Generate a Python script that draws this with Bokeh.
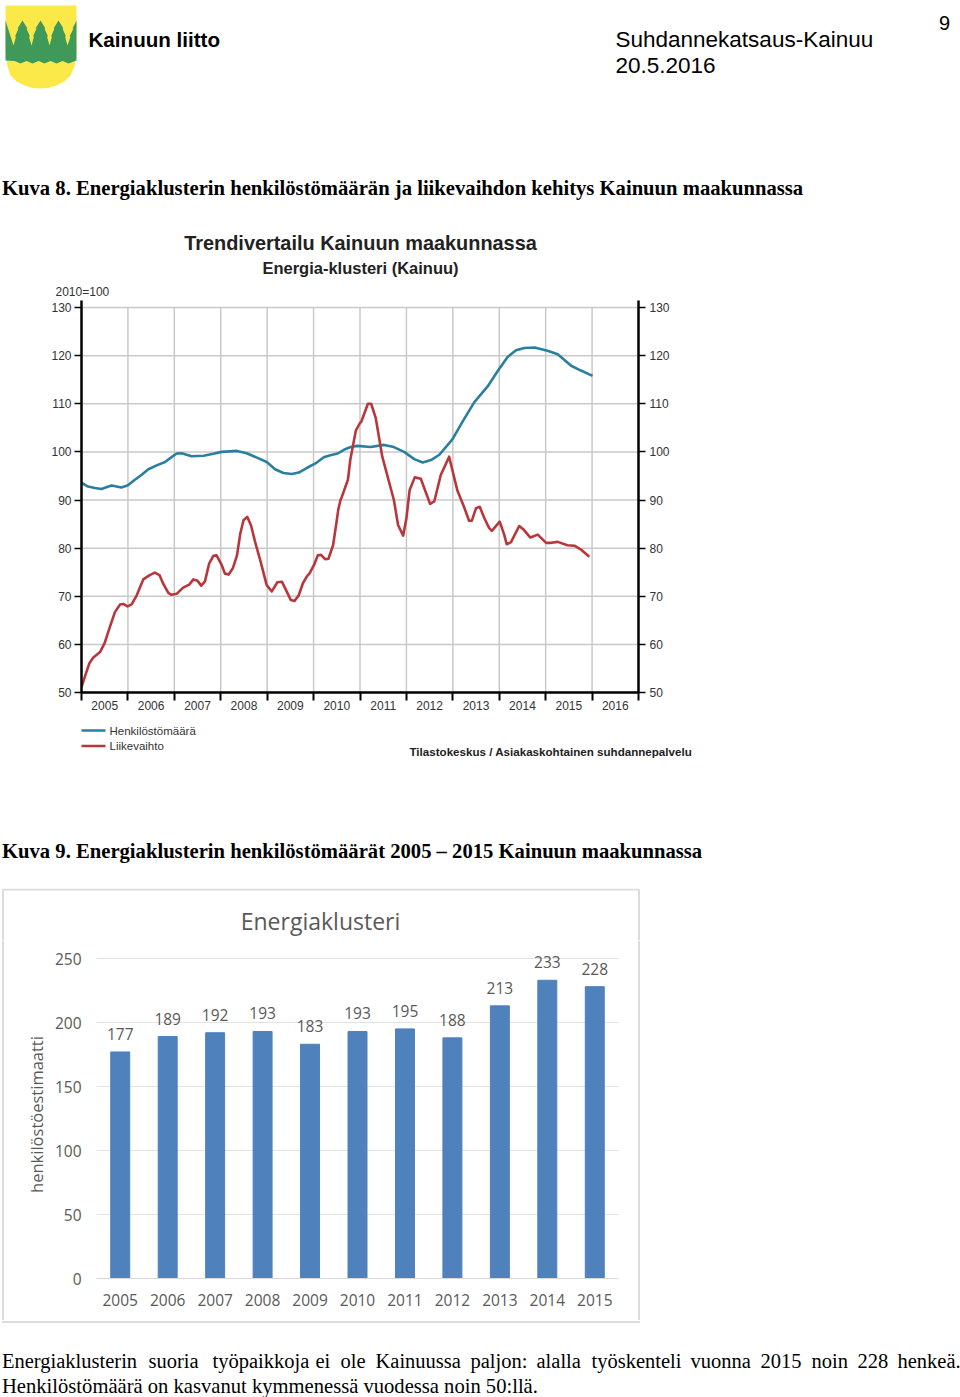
from bokeh.plotting import figure
from bokeh.layouts import column, row
from bokeh.models import FixedTicker, Range1d, LinearAxis, FactorRange
from bokeh.core.properties import value
from bokeh.embed import file_html
from bokeh.resources import INLINE

# --- line chart data (index, 2010=100) ---
staff_years = [2005.00,2005.14,2005.29,2005.43,2005.58,2005.65,2005.86,2006.00,2006.15,2006.29,2006.44,2006.62,2006.80,2006.94,
 2007.05,2007.16,2007.37,2007.63,2007.84,2008.02,2008.35,2008.56,2008.78,2008.99,2009.17,2009.35,2009.53,2009.68,2009.86,
 2010.04,2010.22,2010.36,2010.50,2010.58,2010.68,2010.80,2010.94,2011.23,2011.52,2011.73,2011.95,2012.17,2012.35,2012.53,2012.71,
 2012.99,2013.21,2013.46,2013.75,2013.96,2014.18,2014.36,2014.54,2014.76,2015.04,2015.26,2015.55,2015.76,2016.01]
staff_index = [93.6,92.8,92.5,92.3,92.8,93.0,92.6,93.05,94.2,95.2,96.4,97.2,97.9,98.9,
 99.65,99.7,99.1,99.2,99.6,100.0,100.2,99.7,98.8,97.9,96.4,95.6,95.4,95.7,96.7,
 97.6,98.9,99.3,99.6,100.0,100.55,101.0,101.25,101.0,101.45,101.0,100.0,98.5,97.8,98.3,99.4,
 102.6,106.3,110.3,113.6,116.7,119.7,121.1,121.6,121.7,121.0,120.3,117.9,116.9,115.8]
turnover_years = [2005.00,2005.07,2005.17,2005.25,2005.40,2005.50,2005.61,2005.72,2005.83,2005.90,2005.99,2006.08,2006.19,2006.33,2006.47,
 2006.58,2006.68,2006.76,2006.87,2006.94,2007.05,2007.19,2007.32,2007.41,2007.50,2007.58,2007.66,2007.75,2007.84,2007.91,
 2008.02,2008.09,2008.17,2008.26,2008.35,2008.42,2008.49,2008.57,2008.65,2008.74,2008.85,2008.99,2009.10,2009.22,2009.32,2009.42,
 2009.51,2009.59,2009.68,2009.77,2009.86,2009.91,2010.01,2010.09,2010.16,2010.25,2010.32,2010.42,2010.50,2010.53,2010.58,2010.61,
 2010.74,2010.79,2010.91,2011.00,2011.03,2011.17,2011.24,2011.34,2011.48,2011.73,2011.82,2011.93,2012.00,2012.07,2012.18,2012.31,
 2012.51,2012.60,2012.74,2012.92,2013.10,2013.24,2013.35,2013.41,2013.50,2013.58,2013.68,2013.78,2013.84,2014.01,2014.11,2014.16,
 2014.25,2014.43,2014.53,2014.67,2014.83,2015.01,2015.12,2015.26,2015.47,2015.62,2015.76,2015.94]
turnover_index = [51.1,53.2,56.1,57.2,58.4,60.3,63.6,66.7,68.3,68.4,67.9,68.3,70.2,73.5,74.4,
 74.9,74.4,72.6,70.7,70.3,70.5,71.8,72.4,73.5,73.2,72.2,73.1,76.8,78.4,78.5,
 76.5,74.7,74.5,75.8,78.5,83.0,85.8,86.5,84.8,81.3,77.5,72.3,71.0,72.9,73.0,71.0,
 69.2,69.0,70.2,72.7,74.2,74.7,76.5,78.5,78.6,77.7,77.8,80.6,85.8,87.9,90.0,90.7,
 94.2,98.3,104.4,106.0,106.3,110.0,110.0,107.0,99.0,90.0,84.8,82.6,86.2,92.1,94.7,94.4,
 89.2,89.7,95.2,99.0,91.9,88.6,85.7,85.7,88.3,88.6,86.2,84.2,83.6,85.5,82.7,80.8,
 81.2,84.6,83.8,82.2,82.8,81.1,81.1,81.3,80.6,80.5,79.7,78.2]
year_edges = list(range(2005, 2018))
year_labels = [str(y) for y in range(2005, 2017)]
index_ticks = [50, 60, 70, 80, 90, 100, 110, 120, 130]

# --- bar chart data ---
bar_years = ["2005","2006","2007","2008","2009","2010","2011","2012","2013","2014","2015"]
bar_values = [177,189,192,193,183,193,195,188,213,233,228]
bar_ticks = [0, 50, 100, 150, 200, 250]

# --- texts ---
TOP_CAPTION = "Kuva 8. Energiaklusterin henkilöstömäärän ja liikevaihdon kehitys Kainuun maakunnassa"
MID_CAPTION = "Kuva 9. Energiaklusterin henkilöstömäärät 2005 – 2015 Kainuun maakunnassa"
LAST_LINE = "Henkilöstömäärä on kasvanut kymmenessä vuodessa noin 50:llä."
first_line_words = ["Energiaklusterin","suoria","työpaikkoja","ei","ole","Kainuussa","paljon:","alalla","työskenteli","vuonna","2015","noin","228","henkeä."]
first_line_x = [1.5,148,212,315,340,375,470,536,591,690,760,811,857,897]

SANS = "Liberation Sans"
SERIF = "Liberation Serif"
BLUE = "#2b7f9e"
RED = "#b8373c"
INK = "#333333"
GRID = "#c9c9c9"
XL = "#595959"
XG = "#dcdcdc"


def sheet(y0, y1, x0=0, x1=960):
    """A blank piece of the page, whose coordinates are page pixels."""
    p = figure(width=x1 - x0, height=y1 - y0, x_range=Range1d(x0, x1), y_range=Range1d(y1, y0),
               output_backend="svg", toolbar_location=None, min_border=0, margin=(0, 0, 0, 0),
               frame_align=False)
    p.axis.visible = False
    p.grid.visible = False
    p.outline_line_color = None
    return p


def put(p, x, y, s, size, font=SANS, color="#000000", style="normal", align="left"):
    p.text([x], [y], text=[s], text_font=value(font), text_font_size=f"{size}px", text_color=color,
           text_font_style=style, text_align=align, text_baseline="middle")


# ---------- header strip ----------
head = sheet(0, 300)
shield_x = [5, 76, 76, 74, 70, 64, 56, 48, 40, 32, 24, 16, 10, 7, 5]
shield_y = [5, 5, 50, 66, 75, 81, 85, 87.5, 88, 87.5, 85, 81, 75, 66, 50]
head.patch(shield_x, shield_y, color="#fbe94a", line_color=None)
top_x, top_y = [5], [20]
for i, c in enumerate([22, 40, 58]):
    top_x += [c - 9, c - 6.5, c - 7.5, c - 4, c - 5, c, c + 5, c + 4, c + 7.5, c + 6.5, c + 9]
    top_y += [45, 36, 36, 28, 28, 20, 28, 28, 36, 36, 45]
top_x += [70, 69, 73, 72, 76]
top_y += [36, 36, 28, 28, 20]
bottom_x = [76, 76, 68, 62, 56, 50, 44, 38, 32, 26, 20, 14, 5, 5]
bottom_y = [45, 60, 63, 60.5, 63, 60.5, 63, 60.5, 63, 60.5, 63, 60.5, 60, 45]
head.patch(top_x + bottom_x[:-1] + [5, 5], top_y + bottom_y[:-1] + [60, 20], color="#3f9a5a", line_color=None)
put(head, 88, 39, "Kainuun liitto", 20.6, style="bold")
put(head, 615, 38.5, "Suhdannekatsaus-Kainuu", 22.5)
put(head, 615, 64.5, "20.5.2016", 22.5)
put(head, 944, 22, "9", 20, align="center")
put(head, 1.5, 187, TOP_CAPTION, 20.65, font=SERIF, style="bold")
put(head, 360, 242, "Trendivertailu Kainuun maakunnassa", 19.9, color="#222222", style="bold", align="center")
put(head, 360, 267.5, "Energia-klusteri (Kainuu)", 16.5, color="#222222", style="bold", align="center")
put(head, 55, 291, "2010=100", 12, color=INK)

# ---------- line chart ----------
line = figure(width=960, height=420, x_range=Range1d(2005, 2017),
              y_range=Range1d(50, 50 + 392 / 4.8125), output_backend="svg", toolbar_location=None,
              min_border_left=81, min_border_right=322, min_border_top=0, min_border_bottom=28,
              y_axis_location=None, x_axis_location=None, margin=(0, 0, 0, 0), frame_align=False)
line.outline_line_color = None
line.xgrid.visible = False
line.ygrid.visible = False
line.segment(year_edges[1:-1], [50] * 11, year_edges[1:-1], [130] * 11, line_color=GRID, line_width=1.5)
line.segment([2005] * 9, index_ticks, [2017] * 9, index_ticks, line_color=GRID, line_width=1.5)
line.line(staff_years, staff_index, line_color=BLUE, line_width=2.6, line_join="round")
line.line(turnover_years, turnover_index, line_color=RED, line_width=2.6, line_join="round")
mid_years = [y + 0.5 for y in year_edges[:-1]]
below = LinearAxis(ticker=FixedTicker(ticks=mid_years, minor_ticks=year_edges),
                   major_label_overrides={m: l for m, l in zip(mid_years, year_labels)},
                   major_tick_line_color=None, major_tick_in=0, major_tick_out=0,
                   minor_tick_in=0, minor_tick_out=8, minor_tick_line_color="#000000", minor_tick_line_width=2,
                   axis_line_color="#000000", axis_line_width=2.5, major_label_standoff=0,
                   major_label_text_font=SANS, major_label_text_font_size="12px", major_label_text_color=INK)
line.add_layout(below, "below")
for side, standoff in (("left", 3), ("right", 4)):
    ax = LinearAxis(ticker=FixedTicker(ticks=index_ticks), major_tick_in=0, major_tick_out=7,
                    major_tick_line_color="#000000", major_tick_line_width=1.5, minor_tick_line_color=None,
                    axis_line_color="#000000", axis_line_width=2.5, major_label_standoff=standoff,
                    major_label_text_font=SANS, major_label_text_font_size="12px", major_label_text_color=INK)
    line.add_layout(ax, side)

# ---------- strip between the charts ----------
mid = sheet(720, 888)
mid.line([81, 105], [730, 730], line_color=BLUE, line_width=2.6)
mid.line([81, 105], [745.5, 745.5], line_color=RED, line_width=2.6)
put(mid, 109, 730.5, "Henkilöstömäärä", 11.5, color=INK)
put(mid, 109, 745.5, "Liikevaihto", 11.5, color=INK)
put(mid, 409, 751, "Tilastokeskus / Asiakaskohtainen suhdannepalvelu", 11.6, color="#222222", style="bold")
put(mid, 1.5, 850.5, MID_CAPTION, 20.65, font=SERIF, style="bold")

# ---------- bar chart: its box and title strips ----------
bar_top = sheet(888, 940)
bar_top.line([2.5, 2.5, 638.5, 638.5], [940, 889, 889, 940], line_color=XG, line_width=2)
put(bar_top, 320, 920.5, "Energiaklusteri", 23, font="Open Sans", color=XL, align="center")

bar_left = sheet(940, 1320, 0, 4)
bar_left.line([2.5, 2.5], [940, 1320], line_color=XG, line_width=2)

bar_right = sheet(940, 1320, 637, 960)
bar_right.line([638.5, 638.5], [940, 1320], line_color=XG, line_width=2)

bar = figure(width=633, height=380, x_range=FactorRange(factors=bar_years, range_padding=0),
             y_range=Range1d(0, 328 / 1.28), output_backend="svg", toolbar_location=None,
             min_border_left=92, min_border_right=19, min_border_top=10, min_border_bottom=42,
             margin=(0, 0, 0, 0), frame_align=False)
bar.outline_line_color = None
bar.xgrid.visible = False
bar.ygrid.grid_line_color = "#e2e2e2"
bar.ygrid.grid_line_width = 1.2
bar.ygrid.ticker = FixedTicker(ticks=bar_ticks)
bar.vbar(x=bar_years, top=bar_values, width=0.4, color="#4f81bd")
bar.text(x=bar_years, y=bar_values, text=[str(v) for v in bar_values], text_font=value("Open Sans"),
         text_font_size="15.5px", text_color=XL, text_align="center", text_baseline="middle", y_offset=-18)
bar.xaxis.axis_line_color = "#d9d9d9"
bar.xaxis.major_tick_line_color = None
bar.xaxis.minor_tick_line_color = None
bar.xaxis.major_label_standoff = 9
bar.xaxis.major_label_text_font = "Open Sans"
bar.xaxis.major_label_text_font_size = "15.5px"
bar.xaxis.major_label_text_color = XL
bar.yaxis.ticker = FixedTicker(ticks=bar_ticks)
bar.yaxis.axis_line_color = None
bar.yaxis.major_tick_line_color = None
bar.yaxis.minor_tick_line_color = None
bar.yaxis.major_label_standoff = 9
bar.yaxis.major_label_text_font = "Open Sans"
bar.yaxis.major_label_text_font_size = "15.5px"
bar.yaxis.major_label_text_color = XL
bar.yaxis.axis_label = "henkilöstöestimaatti"
bar.yaxis.axis_label_standoff = 4
bar.yaxis.axis_label_text_font = "Open Sans"
bar.yaxis.axis_label_text_font_style = "normal"
bar.yaxis.axis_label_text_font_size = "16.5px"
bar.yaxis.axis_label_text_color = XL

bar_row = row(bar_left, bar, bar_right, spacing=0, margin=(0, 0, 0, 0))

# ---------- closing text ----------
tail = sheet(1320, 1397)
tail.line([1.5, 639.5], [1321.5, 1321.5], line_color=XG, line_width=2)
for wx, w in zip(first_line_x, first_line_words):
    put(tail, wx, 1360.5, w, 20.5, font=SERIF)
put(tail, 1.5, 1385, LAST_LINE, 20.6, font=SERIF)

page = column(head, line, mid, bar_top, bar_row, tail, spacing=0, margin=(0, 0, 0, 0),
              styles={"position": "absolute", "left": "0px", "top": "0px"})
open("out.html", "w").write(file_html(page, INLINE))
